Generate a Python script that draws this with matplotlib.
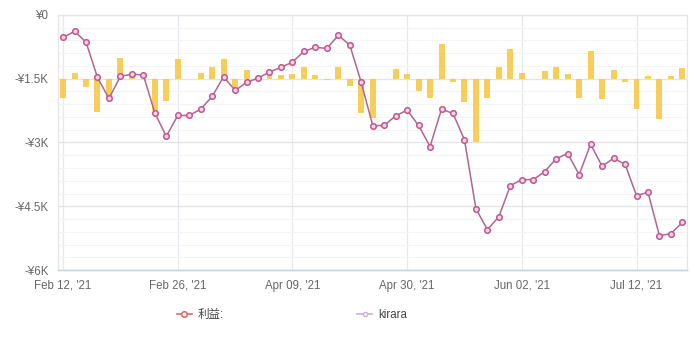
import numpy as np
import matplotlib
matplotlib.use("Agg")
import matplotlib.pyplot as plt
from matplotlib.lines import Line2D
from matplotlib.ticker import MultipleLocator

plt.rcParams['font.family'] = ['Liberation Sans', 'Noto Sans CJK SC', 'DejaVu Sans']

# cumulative profit (line), one point per trading day
cumulative = [
    -526, -385, -636, -1469, -1964, -1445, -1390, -1414, -2302, -2856,
    -2364, -2364, -2215, -1917, -1453, -1775, -1587, -1485, -1343, -1233,
    -1108, -856, -762, -786, -479, -707, -1587, -2604, -2600, -2372,
    -2239, -2600, -3095, -2215, -2317, -2938, -4560, -5051, -4745, -4014,
    -3873, -3873, -3684, -3378, -3260, -3755, -3040, -3559, -3370, -3511,
    -4250, -4171, -5192, -5145, -4878,
]
# daily profit (bars)
daily = [
    -463, 141, -204, -778, -479, 495, 60, -15, -770, -515,
    471, 0, 141, 283, 471, -204, 196, 0, 170, 86,
    118, 283, 94, -24, 283, -181, -801, -935, 0, 228,
    118, -298, -448, 817, -86, -550, -1500, -448, 283, 707,
    141, 0, 189, 283, 110, -448, 660, -471, 196, -79,
    -707, 71, -943, 71, 259,
]
x_tick_pos = [0, 10, 20, 30, 40, 50]
x_tick_labels = ["Feb 12, '21", "Feb 26, '21", "Apr 09, '21",
                 "Apr 30, '21", "Jun 02, '21", "Jul 12, '21"]
y_ticks = [0, -1500, -3000, -4500, -6000]
y_tick_labels = ["¥0", "-¥1.5K", "-¥3K", "-¥4.5K", "-¥6K"]
legend_labels = ["利益:", "kirara"]

x = np.arange(len(cumulative))

fig = plt.figure(figsize=(6.93, 3.39), dpi=100)
axb = fig.add_axes([0.0837, 0.2035, 0.9076, 0.7523])  # bars + grid (bottom layer)
ax = axb.twinx()                                      # line on top
ax.set_zorder(axb.get_zorder() + 1)
ax.patch.set_visible(False)

# bars: zero sits on the -1.5K line of the main scale
axb.bar(x, daily, width=0.52, color='#f7c948', alpha=0.9, zorder=2)
axb.set_ylim(-4500, 1500)
axb.yaxis.set_major_locator(MultipleLocator(1500))
axb.yaxis.set_minor_locator(MultipleLocator(300))
axb.grid(True, which='major', axis='y', color='#e3e3e3', lw=0.9, zorder=0)
axb.grid(True, which='minor', axis='y', color='#f4f4f4', lw=0.8, zorder=0)
axb.grid(True, which='major', axis='x', color='#e4e8ef', lw=0.9, zorder=0)
axb.tick_params(axis='y', which='both', left=False, right=False, labelleft=False)
axb.set_axisbelow(True)

# line
ax.plot(x, cumulative, color='#b0678f', lw=1.1, marker='o', ms=4.0,
        mfc='#f5d6e6', mec='#c1568f', mew=1.1, zorder=3)
ax.set_ylim(-6000, 0)
ax.set_yticks(y_ticks)
ax.set_yticklabels(y_tick_labels)
ax.yaxis.tick_left()
ax.tick_params(axis='y', which='both', left=False, right=False, labelright=False,
               labelleft=True, labelsize=8.3, labelcolor='#666666', pad=3)

axb.set_xlim(-0.44, 54.4)
axb.set_xticks(x_tick_pos)
axb.set_xticklabels(x_tick_labels)
axb.tick_params(axis='x', length=0, labelsize=8.3, labelcolor='#666666', pad=7)

for a in (ax, axb):
    for side in ('top', 'right', 'left'):
        a.spines[side].set_color('#e6e6e6')
        a.spines[side].set_linewidth(0.8)
    a.spines['bottom'].set_color('#ccd6eb')
    a.spines['bottom'].set_linewidth(1.0)

handles = [
    Line2D([], [], color='#e06666', lw=1.2, marker='o', ms=4, mfc='white', mec='#e06666', mew=1.1),
    Line2D([], [], color='#cbb0d3', lw=1.2, marker='o', ms=3, mfc='white', mec='#cbb0d3', mew=1.0),
]
fig.legend(handles, legend_labels, loc='center left', bbox_to_anchor=(0.24, 0.072),
           ncol=2, frameon=False, fontsize=8.3, handlelength=1.3, handletextpad=0.5,
           columnspacing=11.6, labelcolor='#444444')

fig.savefig('out.png', dpi=100)
